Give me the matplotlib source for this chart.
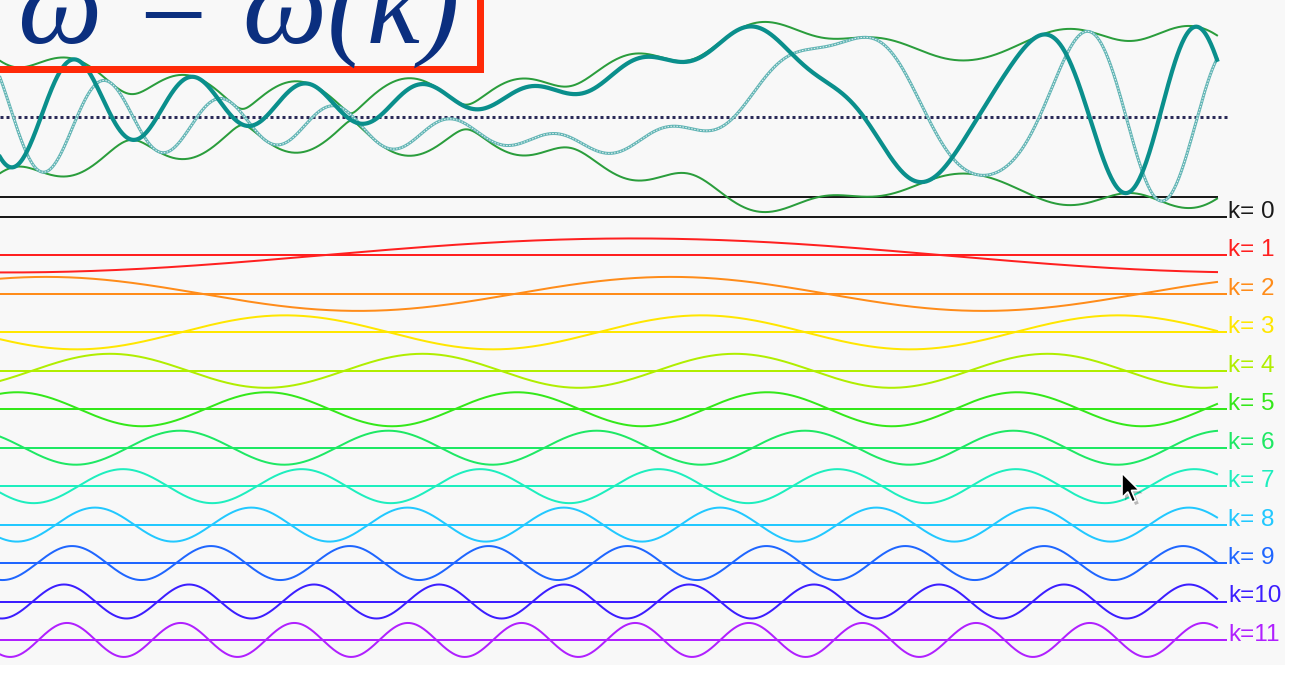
import numpy as np
import matplotlib
matplotlib.use("Agg")
import matplotlib.pyplot as plt
from matplotlib.patches import Rectangle, Polygon

# ---- Fourier components of the wave packet ----------------------------
wave_k = [0, 1, 2, 3, 4, 5, 6, 7, 8, 9, 10, 11]
amplitude = [20, 17, 17, 17, 17, 17, 17, 17, 17, 17, 17, 17]
# horizontal position of the first crest of each component (screen units)
crest_x = [0, 633, 671, 285, 110, 17, 180, 123, 95, 72, 64, 67]
labels = ["k= 0", "k= 1", "k= 2", "k= 3", "k= 4", "k= 5", "k= 6",
          "k= 7", "k= 8", "k= 9", "k=10", "k=11"]
colors = ["#1a1a1a", "#ff2020", "#ff8c1a", "#ffe600", "#b0ee00", "#34e81a",
          "#1ee864", "#1eeebe", "#22c8ff", "#1f66ff", "#3c1eff", "#b020ff"]

title = "\u03c9 = \u03c9(k)"

# ---- layout (screen units, y grows downward) ----------------------------
W, H = 1298, 673
PANEL_W, PANEL_H = 1285, 665
FUNDAMENTAL = 1250.0      # length of one k=1 wavelength
WAVE_END = 1217           # right end of the drawn waves
AXIS_END = 1227           # right end of the component base lines
ROW0, ROW_STEP = 217.0, 38.45
SUM_ZERO = 117.0

fig = plt.figure(figsize=(W / 100, H / 100), dpi=100, facecolor="white")
ax = fig.add_axes([0, (H - PANEL_H) / H, PANEL_W / W, PANEL_H / H])
ax.set_facecolor("#f8f8f8")
ax.set_xlim(0, PANEL_W)
ax.set_ylim(PANEL_H, 0)
ax.set_xticks([])
ax.set_yticks([])
for s in ax.spines.values():
    s.set_visible(False)

x = np.linspace(0, WAVE_END, 1600)
px = 72 / 100  # points per screen unit

# ---- individual components ----------------------------------------------
total = np.zeros_like(x, dtype=complex)
for k, a, c0, col, lab in zip(wave_k, amplitude, crest_x, colors, labels):
    phase = 2 * np.pi * k * (x - c0) / FUNDAMENTAL
    comp = a * np.exp(1j * phase)
    total += comp
    base = ROW0 + ROW_STEP * k
    ax.plot([0, AXIS_END], [base, base], color=col, lw=2.0 * px,
            solid_capstyle="butt", zorder=3)
    ax.plot(x, base - comp.real, color=col, lw=2.0 * px, zorder=3)
    ax.text(AXIS_END + 1, base + 1, lab, color=col, fontsize=17.5,
            family="Liberation Sans", ha="left", va="baseline",
            clip_on=True, zorder=4)

# ---- superposition -------------------------------------------------------
env = np.abs(total)
ax.plot([0, AXIS_END + 3], [SUM_ZERO, SUM_ZERO], color="#2a2a58",
        lw=3.0 * px, ls=(0, (1.0, 1.0)), zorder=4)
ax.plot(x, SUM_ZERO - env, color="#2a9d3c", lw=2.0 * px, zorder=5)
ax.plot(x, SUM_ZERO + env, color="#2a9d3c", lw=2.0 * px, zorder=5)
ax.plot(x, SUM_ZERO - total.imag, color="#62b5b5", lw=3.0 * px, zorder=5)
ax.plot(x, SUM_ZERO - total.imag, color="#e6f3f3", lw=1.0 * px,
        ls=(0, (1.5, 1.5)), zorder=5)
ax.plot(x, SUM_ZERO - total.real, color="#0a8f8c", lw=4.2 * px, zorder=6)

# ---- title box ----------------------------------------------------------
ax.add_patch(Rectangle((-10, -10), 489.5, 78.5, fill=False,
                       edgecolor="#ff2a08", lw=7 * px, zorder=10))
ax.text(18, 43, title, fontsize=86, family="Liberation Serif",
        style="italic", color="#0b2f7f", ha="left", va="baseline",
        zorder=11)

# ---- mouse pointer -------------------------------------------------------
tip = np.array([1122.0, 473.0])
arrow = np.array([[0, 0], [0, 17], [4, 13], [7, 20], [9.5, 19], [6.5, 12],
                  [12, 12]]) * 1.45
ax.add_patch(Polygon(tip + arrow + [3, 3], closed=True, facecolor="#00000040",
                     edgecolor="none", zorder=12))
ax.add_patch(Polygon(tip + arrow, closed=True, facecolor="black",
                     edgecolor="white", lw=1.2, zorder=13))

fig.savefig("out.png", dpi=100, facecolor="white")
